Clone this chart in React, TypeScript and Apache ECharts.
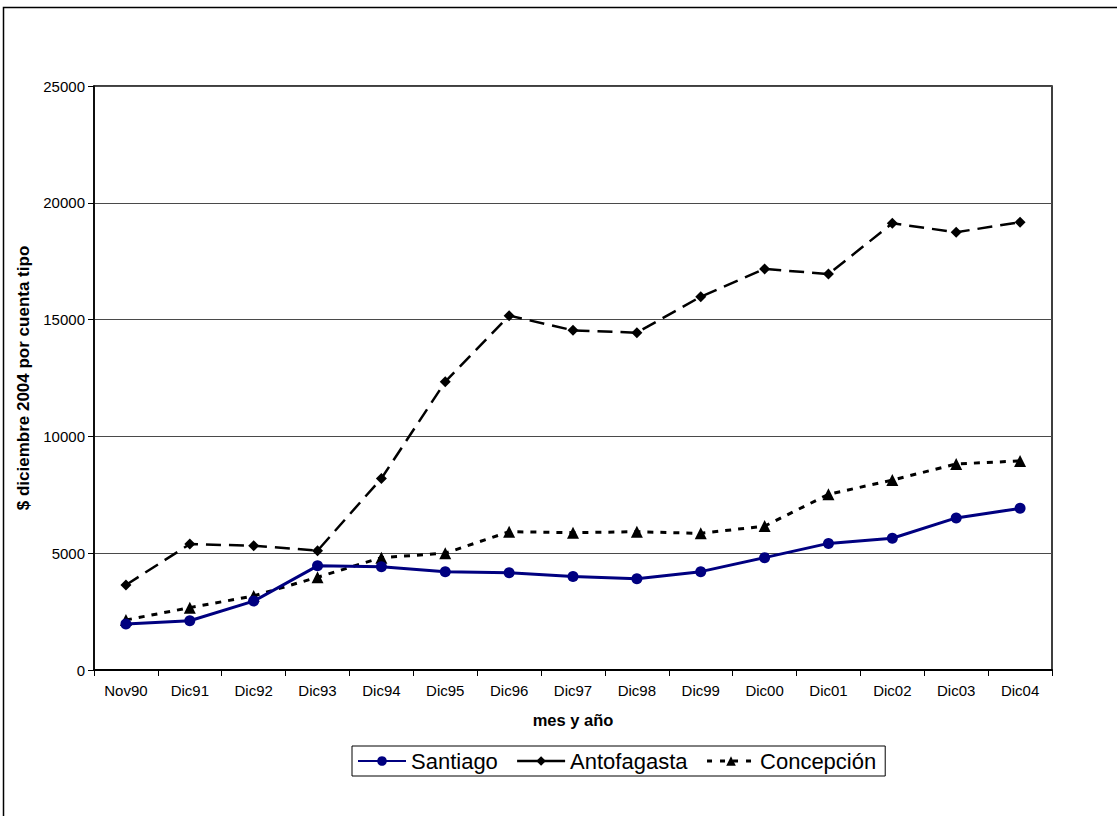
import React, { useEffect, useRef } from "react";
import * as echarts from "echarts";

const categories = ["Nov90", "Dic91", "Dic92", "Dic93", "Dic94", "Dic95", "Dic96", "Dic97", "Dic98", "Dic99", "Dic00", "Dic01", "Dic02", "Dic03", "Dic04"];
const santiago = [1970, 2110, 2950, 4460, 4420, 4210, 4160, 4000, 3910, 4210, 4810, 5420, 5640, 6510, 6920];
const antofagasta = [3640, 5390, 5320, 5110, 8200, 12340, 15170, 14540, 14440, 15980, 17170, 16950, 19120, 18740, 19170];
const concepcion = [2140, 2670, 3170, 3970, 4810, 5000, 5920, 5880, 5920, 5850, 6160, 7520, 8130, 8820, 8950];
const yTicks = { min: 0, max: 25000, interval: 5000 };

const FONT = "'Liberation Sans', Arial, sans-serif";

export default function App() {
  const ref = useRef<HTMLDivElement>(null);
  useEffect(() => {
    if (!ref.current) return;
    const chart = echarts.init(ref.current, undefined, { renderer: "svg" });
    chart.setOption({
      animation: false,
      backgroundColor: "#ffffff",
      textStyle: { fontFamily: FONT },
      graphic: [
        {
          type: "rect",
          shape: { x: 3.5, y: 7.5, width: 1200, height: 900 },
          style: { fill: "none", stroke: "#000", lineWidth: 1.5 },
          silent: true,
        },
      ],
      grid: {
        left: 94,
        top: 86,
        right: 65,
        bottom: 146,
        show: true,
        borderColor: "#000",
        borderWidth: 1.5,
        containLabel: false,
      },
      legend: {
        left: 352,
        top: 746,
        padding: [4, 9, 4, 5],
        itemGap: 18,
        itemWidth: 48,
        itemHeight: 12,
        borderColor: "#000",
        borderWidth: 1,
        textStyle: { fontFamily: FONT, fontSize: 22, color: "#000" },
        data: [
          { name: "Santiago" },
          { name: "Antofagasta", lineStyle: { type: "solid", width: 2.5 } },
          { name: "Concepción", lineStyle: { type: [5, 8], width: 3 } },
        ],
      },
      xAxis: {
        type: "category",
        data: categories,
        boundaryGap: true,
        name: "mes y año",
        nameLocation: "middle",
        nameGap: 41,
        nameTextStyle: { fontFamily: FONT, fontSize: 16.5, fontWeight: "bold", color: "#000" },
        axisLine: { lineStyle: { color: "#000", width: 2 } },
        axisTick: { show: true, length: 6, inside: false, lineStyle: { color: "#000", width: 1 } },
        axisLabel: { fontFamily: FONT, fontSize: 15, color: "#000", margin: 13, interval: 0 },
        splitLine: { show: false },
      },
      yAxis: {
        type: "value",
        min: yTicks.min,
        max: yTicks.max,
        interval: yTicks.interval,
        name: "$ diciembre 2004 por cuenta tipo",
        nameLocation: "middle",
        nameGap: 56,
        nameRotate: 90,
        nameTextStyle: { fontFamily: FONT, fontSize: 17, fontWeight: "bold", color: "#000" },
        axisLine: { show: true, lineStyle: { color: "#000", width: 1.5 } },
        axisTick: { show: true, length: 6, inside: false, lineStyle: { color: "#000", width: 1 } },
        axisLabel: {
          fontFamily: FONT,
          fontSize: 15,
          color: "#000",
          margin: 9,
          formatter: (v: number) => String(v),
        },
        splitLine: { show: true, lineStyle: { color: "#4a4a4a", width: 1 } },
      },
      series: [
        {
          name: "Santiago",
          type: "line",
          data: santiago,
          symbol: "circle",
          symbolSize: 11,
          itemStyle: { color: "#000080" },
          lineStyle: { color: "#000080", width: 3, type: "solid" },
          z: 3,
        },
        {
          name: "Antofagasta",
          type: "line",
          data: antofagasta,
          symbol: "diamond",
          symbolSize: 11,
          itemStyle: { color: "#000" },
          lineStyle: { color: "#000", width: 2.5, type: [15, 8] },
          z: 2,
        },
        {
          name: "Concepción",
          type: "line",
          data: concepcion,
          symbol: "triangle",
          symbolSize: 12,
          itemStyle: { color: "#000" },
          lineStyle: { color: "#000", width: 3, type: [6, 7] },
          z: 2,
        },
      ],
    });
    return () => chart.dispose();
  }, []);
  return (
    <div
      ref={ref}
      style={{ position: "fixed", left: 0, top: 0, width: 1117, height: 816, background: "#fff" }}
    />
  );
}
